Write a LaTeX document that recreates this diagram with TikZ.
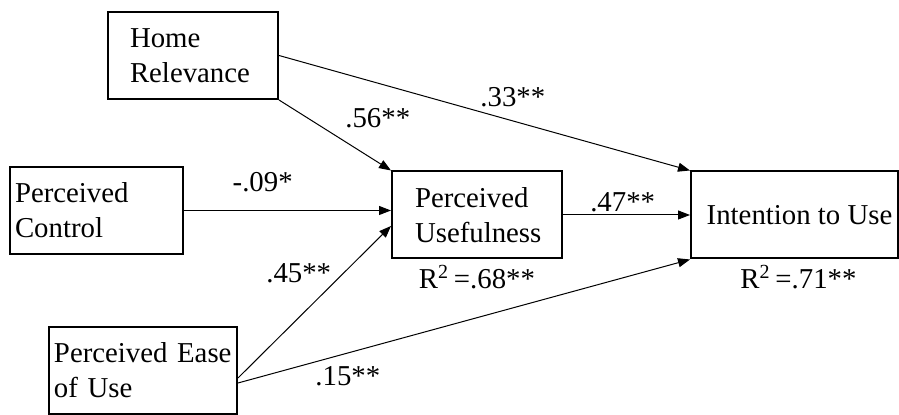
\documentclass[tikz,border=0pt]{standalone}
\usepackage{fontspec}
\setmainfont{Liberation Serif}
\usetikzlibrary{arrows.meta, positioning}

\begin{document}
\begin{tikzpicture}[x=0.5pt, y=-0.5pt, >={Triangle[length=6pt, width=4.5pt]}]
    \tikzstyle{var} = [rectangle, draw, line width=1pt, minimum height=43.5pt,
                       align=left, font=\fontsize{14.4}{17.5}\selectfont]
    \tikzstyle{link} = [->, line width=0.5pt]
    \tikzstyle{coef} = [inner sep=0pt, font=\fontsize{14.4}{17}\selectfont]

    \useasboundingbox (0,0) rectangle (899,415);

    \node [var, text width=63pt, inner xsep=11pt] (hr) at (193,55.5) {Home\\Relevance};
    \node [var, text width=81.5pt, inner xsep=2.5pt] (pc) at (96.5,210.5) {Perceived\\Control};
    \node [var, text width=89pt, inner xsep=2.5pt] (peu) at (143,370.5) {Perceived Ease\\of Use};
    \node [var, text width=62pt, inner xsep=11.5pt] (pu) at (477,215) {Perceived\\Usefulness};
    \node [var, minimum width=103.5pt, inner xsep=2pt, align=center] (itu) at (794.5,215) {\hspace{5pt}Intention to Use};

    \node [coef, below=2.5pt of pu] (pur2) {R\textsuperscript{2}\,=.68**};
    \node [coef, below=2.5pt of itu, xshift=2pt] (itur2) {R\textsuperscript{2}\,=.71**};

    \draw [link] (hr.south east) -- node[coef, pos=0.588, anchor=south west, yshift=6.5pt] {.56**} (pu.north west);
    \draw [link] (hr.east) -- node[coef, pos=0.489, anchor=south west, yshift=2.25pt] {.33**} (itu.north west);
    \draw [link] (pc.east) -- node[coef, pos=0.38, above=9pt] {-.09*} (pc.east -| pu.west);
    \draw [link] ([yshift=-3.75pt]peu.east) -- node[coef, pos=0.625, anchor=south east, xshift=-1pt] {.45**} ([yshift=-5.5pt]pu.west);
    \draw [link] ([yshift=-6.25pt]peu.east) -- node[coef, pos=0.243, anchor=north, yshift=-6.5pt] {.15**} (itu.south west);
    \draw [link] (pu.east) -- node[coef, pos=0.47, above=1.5pt] {.47**} (itu.west);
\end{tikzpicture}
\end{document}
